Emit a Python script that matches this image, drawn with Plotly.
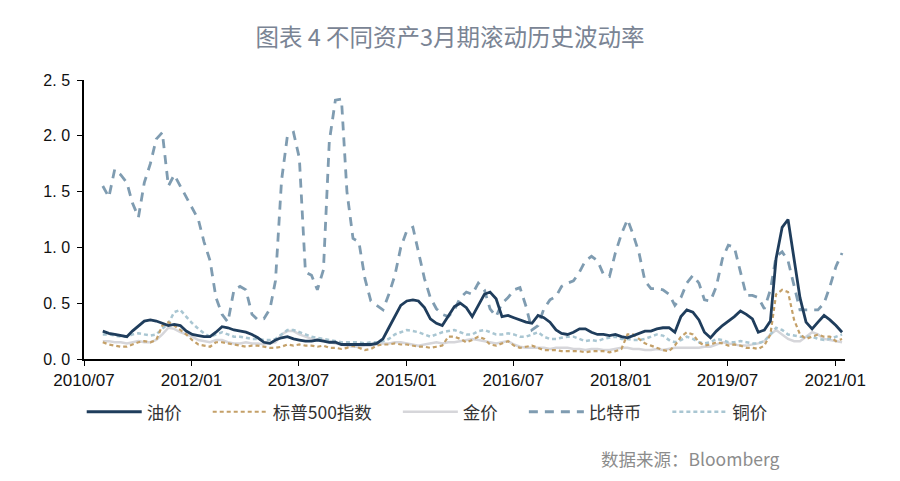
import pandas as pd
import plotly.graph_objects as go

# monthly points from 2010-10 to 2021-02
start_month = "2010-10-01"

oil = [0.25, 0.23, 0.22, 0.21, 0.20, 0.25, 0.30, 0.34, 0.35, 0.34,
       0.32, 0.30, 0.31, 0.30, 0.25, 0.22, 0.21, 0.20, 0.20, 0.24,
       0.29, 0.28, 0.26, 0.25, 0.24, 0.22, 0.19, 0.15, 0.14, 0.17,
       0.19, 0.20, 0.18, 0.17, 0.16, 0.16, 0.17, 0.16, 0.15, 0.15,
       0.13, 0.13, 0.13, 0.13, 0.13, 0.13, 0.14, 0.18, 0.28, 0.38,
       0.48, 0.52, 0.53, 0.52, 0.46, 0.36, 0.32, 0.30, 0.38, 0.47,
       0.50, 0.46, 0.38, 0.48, 0.58, 0.60, 0.54, 0.38, 0.39, 0.37,
       0.35, 0.33, 0.32, 0.39, 0.37, 0.33, 0.26, 0.23, 0.22, 0.24,
       0.27, 0.27, 0.24, 0.22, 0.22, 0.21, 0.22, 0.20, 0.19, 0.21,
       0.23, 0.25, 0.25, 0.27, 0.28, 0.28, 0.24, 0.38, 0.44, 0.42,
       0.35, 0.24, 0.19, 0.25, 0.30, 0.34, 0.38, 0.43, 0.40, 0.36,
       0.24, 0.26, 0.34, 0.90, 1.18, 1.25, 0.90, 0.55, 0.33, 0.27,
       0.33, 0.39, 0.35, 0.30, 0.24]

sp500 = [0.15, 0.13, 0.12, 0.11, 0.11, 0.13, 0.15, 0.16, 0.15, 0.17,
         0.30, 0.33, 0.30, 0.26, 0.22, 0.17, 0.13, 0.12, 0.11, 0.15,
         0.15, 0.14, 0.13, 0.12, 0.11, 0.12, 0.12, 0.11, 0.10, 0.10,
         0.11, 0.13, 0.12, 0.13, 0.12, 0.12, 0.11, 0.12, 0.10, 0.10,
         0.09, 0.10, 0.12, 0.10, 0.08, 0.09, 0.12, 0.13, 0.13, 0.14,
         0.13, 0.13, 0.12, 0.11, 0.11, 0.10, 0.11, 0.12, 0.20, 0.20,
         0.18, 0.15, 0.17, 0.20, 0.18, 0.13, 0.12, 0.14, 0.16, 0.12,
         0.10, 0.11, 0.12, 0.10, 0.08, 0.08, 0.08, 0.07, 0.07, 0.07,
         0.07, 0.06, 0.07, 0.07, 0.07, 0.06, 0.07, 0.09, 0.22, 0.22,
         0.18, 0.14, 0.12, 0.10, 0.08, 0.07, 0.12, 0.20, 0.24, 0.22,
         0.15, 0.12, 0.13, 0.15, 0.14, 0.12, 0.13, 0.12, 0.10, 0.10,
         0.09, 0.12, 0.22, 0.58, 0.62, 0.60, 0.35, 0.22, 0.18, 0.20,
         0.22, 0.20, 0.20, 0.16, 0.18]

gold = [0.16, 0.16, 0.15, 0.15, 0.14, 0.15, 0.16, 0.15, 0.15, 0.17,
        0.22, 0.28, 0.27, 0.24, 0.22, 0.20, 0.17, 0.16, 0.15, 0.17,
        0.17, 0.15, 0.14, 0.14, 0.15, 0.14, 0.14, 0.13, 0.14, 0.15,
        0.22, 0.25, 0.25, 0.22, 0.20, 0.18, 0.17, 0.17, 0.15, 0.14,
        0.13, 0.12, 0.11, 0.11, 0.12, 0.12, 0.13, 0.14, 0.14, 0.15,
        0.15, 0.14, 0.13, 0.12, 0.13, 0.14, 0.15, 0.14, 0.15, 0.15,
        0.16, 0.17, 0.18, 0.17, 0.16, 0.15, 0.14, 0.15, 0.16, 0.13,
        0.11, 0.10, 0.10, 0.10, 0.10, 0.09, 0.10, 0.10, 0.10, 0.09,
        0.09, 0.08, 0.09, 0.09, 0.08, 0.08, 0.09, 0.10, 0.10, 0.09,
        0.09, 0.08, 0.08, 0.09, 0.08, 0.09, 0.10, 0.10, 0.10, 0.10,
        0.10, 0.11, 0.11, 0.13, 0.15, 0.14, 0.13, 0.12, 0.12, 0.13,
        0.14, 0.16, 0.22, 0.26, 0.22, 0.18, 0.16, 0.16, 0.20, 0.24,
        0.22, 0.18, 0.17, 0.16, 0.15]

bitcoin = [1.55, 1.45, 1.70, 1.65, 1.58, 1.40, 1.27, 1.58, 1.75, 1.97,
           2.03, 1.55, 1.65, 1.55, 1.45, 1.35, 1.25, 1.05, 0.88, 0.55,
           0.40, 0.33, 0.62, 0.65, 0.62, 0.40, 0.35, 0.36, 0.45, 0.70,
           1.60, 2.00, 2.03, 1.80, 0.78, 0.75, 0.62, 0.80, 1.95, 2.32,
           2.33, 1.50, 1.08, 1.05, 0.72, 0.52, 0.48, 0.44, 0.58, 0.75,
           1.00, 1.15, 1.18, 0.95, 0.72, 0.55, 0.45, 0.40, 0.38, 0.44,
           0.55, 0.60, 0.58, 0.68, 0.62, 0.45, 0.38, 0.50, 0.55, 0.62,
           0.64, 0.47, 0.26, 0.30, 0.45, 0.53, 0.56, 0.65, 0.68, 0.70,
           0.78, 0.88, 0.92, 0.88, 0.76, 0.74, 0.95, 1.12, 1.25, 1.12,
           0.95, 0.70, 0.63, 0.63, 0.62, 0.58, 0.48, 0.55, 0.68, 0.75,
           0.68, 0.53, 0.52, 0.65, 0.90, 1.02, 1.00, 0.78, 0.57, 0.57,
           0.55, 0.45, 0.62, 0.92, 0.96, 0.88, 0.65, 0.44, 0.44, 0.44,
           0.44, 0.50, 0.65, 0.83, 0.95]

copper = [0.22, 0.22, 0.21, 0.20, 0.20, 0.22, 0.23, 0.22, 0.21, 0.22,
          0.27, 0.32, 0.42, 0.44, 0.38, 0.32, 0.27, 0.23, 0.20, 0.22,
          0.24, 0.22, 0.20, 0.20, 0.19, 0.18, 0.18, 0.17, 0.17, 0.18,
          0.22, 0.26, 0.26, 0.24, 0.22, 0.20, 0.19, 0.18, 0.17, 0.16,
          0.15, 0.15, 0.15, 0.15, 0.14, 0.15, 0.15, 0.16, 0.18, 0.22,
          0.24, 0.26, 0.25, 0.24, 0.22, 0.20, 0.22, 0.24, 0.25, 0.26,
          0.24, 0.22, 0.22, 0.25, 0.26, 0.24, 0.22, 0.22, 0.23, 0.22,
          0.20, 0.20, 0.22, 0.24, 0.20, 0.18, 0.18, 0.19, 0.20, 0.20,
          0.18, 0.16, 0.17, 0.16, 0.18, 0.19, 0.20, 0.18, 0.18, 0.17,
          0.17, 0.18, 0.20, 0.22, 0.21, 0.17, 0.15, 0.17, 0.20, 0.18,
          0.15, 0.14, 0.15, 0.18, 0.17, 0.15, 0.15, 0.16, 0.15, 0.14,
          0.14, 0.16, 0.22, 0.28, 0.26, 0.22, 0.21, 0.20, 0.20, 0.20,
          0.18, 0.17, 0.18, 0.20, 0.22]

dates = pd.date_range(start_month, periods=len(oil), freq="MS") + pd.Timedelta(days=4)

tick_vals = ["2010-07-01", "2012-01-01", "2013-07-01", "2015-01-01",
             "2016-07-01", "2018-01-01", "2019-07-01", "2021-01-01"]
tick_text = ["2010/07", "2012/01", "2013/07", "2015/01",
             "2016/07", "2018/01", "2019/07", "2021/01"]
y_ticks = [0, 0.5, 1.0, 1.5, 2.0, 2.5]
y_text = ["0.\u00a00", "0.\u00a05", "1.\u00a00", "1.\u00a05", "2.\u00a00", "2.\u00a05"]

PAD = "\u2002\u2002\u2009"

fig = go.Figure()

fig.add_trace(go.Scatter(x=dates, y=gold, name="金价" + PAD, mode="lines",
                         line=dict(color="#d6d6da", width=2.5), legendrank=3))
fig.add_trace(go.Scatter(x=dates, y=copper, name="铜价", mode="lines",
                         line=dict(color="#a9c6d2", width=2.5, dash="4px,3px"), legendrank=5))
fig.add_trace(go.Scatter(x=dates, y=bitcoin, name="比特币" + PAD, mode="lines",
                         line=dict(color="#7f9cb1", width=2.8, dash="9px,7px"), legendrank=4))
fig.add_trace(go.Scatter(x=dates, y=sp500, name="标普500指数" + PAD, mode="lines",
                         line=dict(color="#c4a068", width=2.2, dash="4px,3px"), legendrank=2))
fig.add_trace(go.Scatter(x=dates, y=oil, name="油价" + PAD, mode="lines",
                         line=dict(color="#1f3d5c", width=2.8), legendrank=1))

fig.update_layout(
    width=900, height=481,
    margin=dict(l=84, r=55, t=80, b=122),
    paper_bgcolor="white", plot_bgcolor="white",
    font=dict(family="Noto Sans CJK SC, Arial, sans-serif", color="#222222"),
    title=dict(text="图表 4 不同资产3月期滚动历史波动率", x=0.5, xanchor="center",
               y=0.922, yanchor="middle",
               font=dict(size=23.5, color="#7a8494", family="Noto Sans CJK SC")),
    showlegend=True,
    legend=dict(orientation="h", x=-0.003, xanchor="left", y=-0.125, yanchor="top",
                font=dict(size=17.5, color="#333333", family="Noto Sans CJK SC"),
                traceorder="normal", itemwidth=55, bgcolor="rgba(0,0,0,0)"),
    xaxis=dict(type="date", range=["2010-07-01", "2021-02-20"],
               tickmode="array", tickvals=tick_vals, ticktext=tick_text,
               showgrid=False, zeroline=False,
               showline=True, linecolor="#000000", linewidth=1.5,
               ticks="outside", ticklen=5, tickcolor="#000000", tickwidth=1.2,
               tickfont=dict(size=17, color="#111111", family="Liberation Sans, Arial")),
    yaxis=dict(range=[0, 2.5], tickmode="array", tickvals=y_ticks, ticktext=y_text,
               showgrid=False, zeroline=False,
               showline=True, linecolor="#000000", linewidth=1.5,
               ticks="outside", ticklen=5, tickcolor="#000000", tickwidth=1.2,
               ticklabelstandoff=4,
               tickfont=dict(size=16, color="#111111", family="Liberation Sans, Arial")),
)

fig.add_annotation(text="数据来源：Bloomberg", xref="paper", yref="paper",
                   x=(781 - 84) / (900 - 84 - 55), y=(481 - 122 - 458) / (481 - 80 - 122),
                   xanchor="right", yanchor="middle", showarrow=False,
                   font=dict(size=17.5, color="#8c8c8c", family="Noto Sans CJK SC"))

fig.write_html("out.html")
